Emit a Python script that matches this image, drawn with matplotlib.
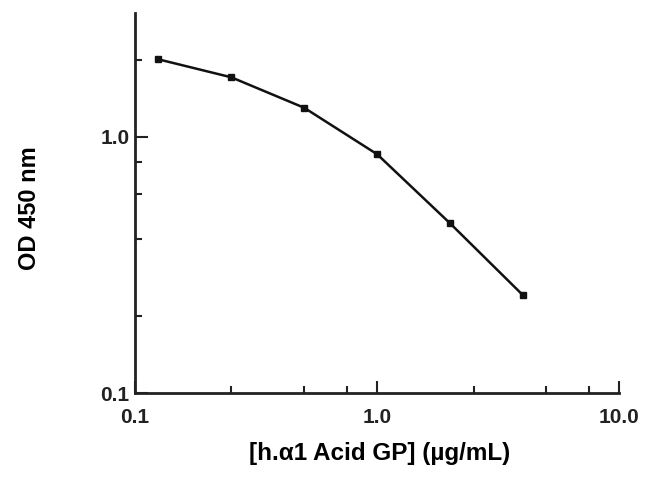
import numpy as np
import matplotlib
matplotlib.use("Agg")
import matplotlib.pyplot as plt
from matplotlib.ticker import FixedLocator, FixedFormatter, NullFormatter

plt.rcParams["font.family"] = ["Liberation Sans", "DejaVu Sans"]
plt.rcParams["font.weight"] = "bold"

# concentration (ug/mL) and OD
conc = [0.125, 0.25, 0.5, 1.0, 2.0, 4.0]
od = [2.01, 1.71, 1.30, 0.856, 0.46, 0.241]

x_major = [0.1, 1.0, 10.0]
x_major_labels = ["0.1", "1.0", "10.0"]
x_minor = [0.25, 0.5, 0.75, 2.5, 5.0, 7.5]
y_major = [0.1, 1.0]
y_major_labels = ["0.1", "1.0"]
y_minor = [0.2, 0.4, 0.6, 0.8, 2.0]

fig = plt.figure(figsize=(6.5, 4.79), dpi=100)
ax = fig.add_axes([0.2077, 0.1795, 0.9528 - 0.2077, 0.9729 - 0.1795])

ax.plot(conc, od, color="#111111", lw=1.8, marker="s", ms=5,
        markerfacecolor="#111111", markeredgecolor="#111111")

ax.set_xscale("log")
ax.set_yscale("log")
ax.set_xlim(0.1, 10.0)
ax.set_ylim(0.1, 3.05)

ax.xaxis.set_major_locator(FixedLocator(x_major))
ax.xaxis.set_major_formatter(FixedFormatter(x_major_labels))
ax.xaxis.set_minor_locator(FixedLocator(x_minor))
ax.xaxis.set_minor_formatter(NullFormatter())
ax.yaxis.set_major_locator(FixedLocator(y_major))
ax.yaxis.set_major_formatter(FixedFormatter(y_major_labels))
ax.yaxis.set_minor_locator(FixedLocator(y_minor))
ax.yaxis.set_minor_formatter(NullFormatter())

for s in ["top", "right"]:
    ax.spines[s].set_visible(False)
for s in ["left", "bottom"]:
    ax.spines[s].set_linewidth(2.0)
    ax.spines[s].set_color("#222222")

ax.tick_params(which="major", direction="in", length=9, width=1.5,
               labelsize=15, pad=4, colors="#222222")
ax.tick_params(which="minor", direction="in", length=5, width=1.5,
               colors="#222222")
ax.tick_params(axis="x", which="major", pad=11)

ax.set_xlabel("[h.\u03b11 Acid GP] (\u00b5g/mL)", fontsize=17.5, fontweight="bold")
ax.set_ylabel("OD 450 nm", fontsize=17, fontweight="bold")
ax.xaxis.set_label_coords(0.506, -0.13)
ax.yaxis.set_label_coords(-0.195, 0.487)

fig.savefig("out.png", dpi=100)
